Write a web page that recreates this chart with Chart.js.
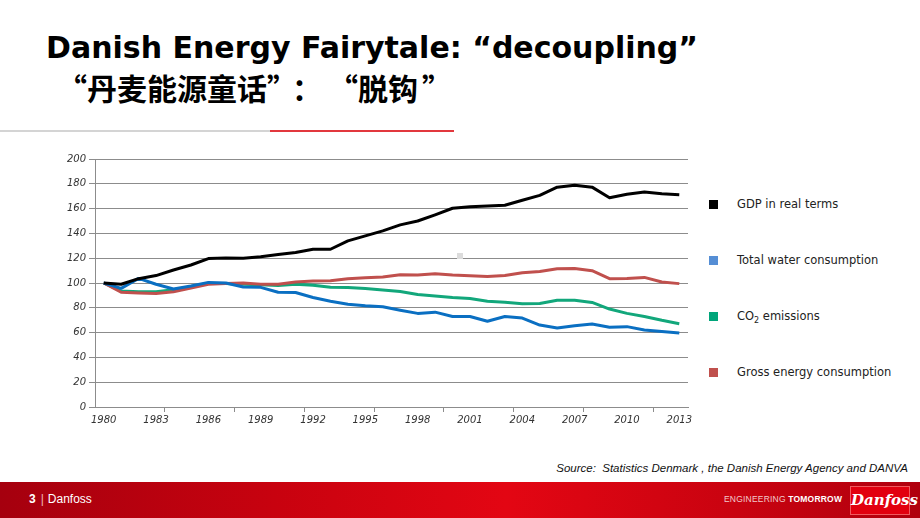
<!DOCTYPE html>
<html>
<head>
<meta charset="utf-8">
<script src="https://cdn.jsdelivr.net/npm/chart.js@4.4.1/dist/chart.umd.min.js"></script>
<style>
  html, body { margin: 0; padding: 0; background: #fff; }
  body { width: 920px; height: 518px; position: relative; overflow: hidden; font-family: "DejaVu Sans", Verdana, sans-serif; }
  .title { position: absolute; left: 46px; top: 33px; font-size: 30px; line-height: 30px; font-weight: bold; color: #000; white-space: nowrap; }
  .subtitle { position: absolute; left: 57px; top: 70px; font-size: 30px; line-height: 34px; font-weight: bold; color: #000; white-space: nowrap; font-family: "Noto Sans CJK SC", sans-serif; }
  .subtitle .colon { margin-left: 10px; }
  .subtitle .gap { display: inline-block; width: 6px; }
  .subtitle .close { margin-left: 4px; }
  .rule-grey { position: absolute; left: 0; top: 130px; width: 270px; height: 2px; background: #d4d4d4; }
  .rule-red { position: absolute; left: 270px; top: 130px; width: 184px; height: 2px; background: #e2383d; }
  .chart-box { position: absolute; left: 40px; top: 150px; width: 655px; height: 285px; }
  .legend { position: absolute; left: 709px; top: 0; }
  .legend div { position: absolute; left: 0; white-space: nowrap; font-size: 11.5px; color: #222; }
  .legend span.sw { position: absolute; left: 0; top: -5px; width: 9px; height: 9px; }
  .legend span.tx { position: absolute; left: 28px; top: -8px; }
  .dot { position: absolute; left: 457px; top: 253px; width: 6px; height: 6px; background: #dcdcdc; }
  .source { position: absolute; right: 12px; top: 462px; font-size: 11.5px; font-style: italic; color: #111; white-space: nowrap; font-family: "Liberation Sans", sans-serif; }
  .footer { position: absolute; left: 0; top: 482px; width: 920px; height: 36px;
    background: linear-gradient(90deg, #a5000e 0%, #c8020f 30%, #e30613 55%, #c90310 80%, #b0000e 100%); }
  .page { position: absolute; left: 29px; top: 10px; color: #fff; font-size: 12px; font-family: "Liberation Sans", sans-serif; }
  .page b { font-weight: bold; }
  .page i { font-style: normal; color: #f3b5b8; padding: 0 4px 0 5px; }
  .tagline { position: absolute; left: 724px; top: 12px; color: #f2c9cb; font-size: 8.5px; letter-spacing: 0.2px; font-family: "Liberation Sans", sans-serif; }
  .tagline b { color: #fff; }
  .logo { position: absolute; left: 850px; top: 4px; width: 60px; height: 29px; background: #e2000f; border: 1px solid #f05a5f; box-sizing: border-box;
    color: #fff; font: italic bold 15px "DejaVu Serif", serif; text-align: center; line-height: 27px; }
</style>
</head>
<body>
<div class="title">Danish Energy Fairytale: “decoupling”</div>
<div class="subtitle">“丹麦能源童话”<span class="colon">：</span><span class="gap"></span>“脱钩<span class="close">”</span></div>
<div class="rule-grey"></div>
<div class="rule-red"></div>

<div class="chart-box"><canvas id="decouplingChart"></canvas></div>
<div class="legend" id="legend"></div>
<div class="dot"></div>

<div class="source">Source:&nbsp; Statistics Denmark , the Danish Energy Agency and DANVA</div>
<div class="footer">
  <div class="page"><b>3</b><i>|</i>Danfoss</div>
  <div class="tagline">ENGINEERING <b>TOMORROW</b></div>
  <div class="logo">Danfoss</div>
</div>

<script>
// Index 1980 = 100
const years = ['1980', '1981', '1982', '1983', '1984', '1985', '1986', '1987', '1988', '1989',
  '1990', '1991', '1992', '1993', '1994', '1995', '1996', '1997', '1998', '1999',
  '2000', '2001', '2002', '2003', '2004', '2005', '2006', '2007', '2008', '2009',
  '2010', '2011', '2012', '2013'];

const gdp = [100, 99, 103.5, 106, 110.5, 114.5, 119.7, 120.2, 120, 121.2,
  123, 124.6, 127.2, 127.2, 134, 138, 142, 146.9, 150, 155,
  160.3, 161.5, 162.1, 162.7, 166.7, 170.7, 177.3, 178.9, 177.3, 168.8,
  171.5, 173.3, 172, 171.2];

const water = [100, 95.7, 103.7, 99, 95.2, 97.6, 100.5, 100, 96.8, 96.5,
  92.5, 92.3, 88.3, 85.3, 82.9, 81.6, 80.8, 78.1, 75.5, 76.5,
  73, 73, 69.1, 73, 71.7, 66.1, 63.7, 65.6, 66.9, 64.3,
  64.8, 62.1, 60.8, 59.7];

const co2 = [100, 93.5, 93, 93, 94.5, 97, 99.5, 99.5, 99, 98.5,
  98, 99, 98.1, 96.5, 96.3, 95.5, 94.4, 93.1, 90.7, 89.6,
  88.3, 87.5, 85.3, 84.5, 83.2, 83.5, 86.1, 86.1, 84.3, 79,
  75.5, 73, 69.9, 67.2];

const energy = [100, 92.5, 92, 91.5, 93, 96, 99, 99.5, 100, 99,
  99, 100.8, 101.6, 101.9, 103.5, 104.3, 104.8, 106.7, 106.4, 107.5,
  106.4, 105.9, 105.3, 106.1, 108.3, 109.3, 111.5, 111.7, 109.9, 103.5,
  103.7, 104.5, 100.8, 99.5];

const seriesNames = ['GDP in real terms', 'Total water consumption', 'CO<sub style="font-size:8px">2</sub> emissions', 'Gross energy consumption'];
const lineColors = ['#000000', '#0a6fc2', '#12a77b', '#c0504d'];
const swatchColors = ['#000000', '#558ed5', '#00a57a', '#c0504d'];
const yTicks = [0, 20, 40, 60, 80, 100, 120, 140, 160, 180, 200];

document.addEventListener('DOMContentLoaded', function() {

    const tickFont = { family: '"DejaVu Sans", sans-serif', size: 10, style: 'italic' };
    const values = [gdp, water, co2, energy];
    const drawOrder = [0, 1, 3, 2];

    const ctx = document.getElementById('decouplingChart');
    new Chart(ctx, {
        type: 'line',
        data: {
            labels: years,
            datasets: values.map(function(v, i) {
                return {
                    label: seriesNames[i].replace(/<[^>]+>/g, ''),
                    data: v,
                    borderColor: lineColors[i],
                    backgroundColor: lineColors[i],
                    borderWidth: 3,
                    pointRadius: 0,
                    tension: 0,
                    borderJoinStyle: 'round',
                    order: drawOrder[i]
                };
            })
        },
        options: {
            responsive: true,
            maintainAspectRatio: false,
            animation: false,
            layout: { padding: { top: 7, right: 7, left: 0, bottom: 0 } },
            plugins: {
                legend: { display: false },
                tooltip: { enabled: false }
            },
            scales: {
                x: {
                    offset: true,
                    border: { color: '#8c8c8c', width: 1 },
                    grid: {
                        offset: true,
                        drawOnChartArea: false,
                        tickLength: 5,
                        // tick marks every 4 years, labels every 3
                        color: function(c) {
                            return (c.index > 0 && c.index % 4 === 0 && c.index < years.length) ? '#8c8c8c' : 'rgba(0,0,0,0)';
                        }
                    },
                    ticks: {
                        autoSkip: false,
                        maxRotation: 0,
                        color: '#333',
                        font: tickFont,
                        padding: 2,
                        callback: function(value, index) {
                            return index % 3 === 0 ? years[index] : '';
                        }
                    },
                    afterFit: function(scale) { scale.height = 28; }
                },
                y: {
                    min: 0,
                    max: 200,
                    afterBuildTicks: function(scale) {
                        scale.ticks = yTicks.map(function(v) { return { value: v }; });
                    },
                    border: { color: '#8c8c8c', width: 1 },
                    grid: { color: '#8c8c8c', lineWidth: 1, tickLength: 6 },
                    ticks: { color: '#333', font: tickFont, padding: 3 },
                    afterFit: function(scale) { scale.width = 55; }
                }
            }
        }
    });

    // Legend on the right
    const legend = document.getElementById('legend');
    const legendY = [205, 261, 317, 373];
    seriesNames.forEach(function(name, i) {
        const item = document.createElement('div');
        item.style.top = legendY[i] + 'px';
        item.innerHTML = '<span class="sw" style="background:' + swatchColors[i] + '"></span><span class="tx">' + name + '</span>';
        legend.appendChild(item);
    });
});
</script>
</body>
</html>
